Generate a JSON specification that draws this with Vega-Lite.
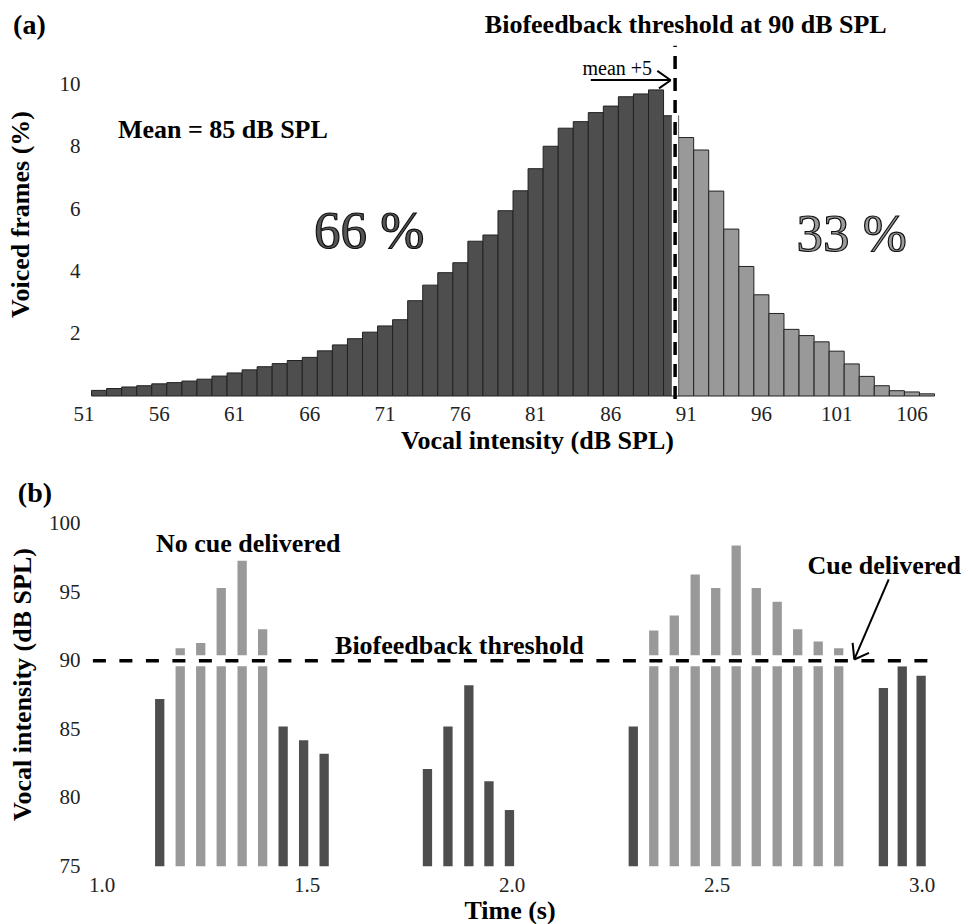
{
  "$schema": "https://vega.github.io/schema/vega-lite/v6.json",
  "background": "white",
  "padding": {"left": 7, "top": 11, "right": 0, "bottom": 0},
  "bounds": "flush",
  "spacing": 114,
  "config": {
    "view": {"stroke": null},
    "font": "Liberation Serif",
    "axis": {
      "labelFont": "Liberation Serif", "labelFontSize": 21, "labelColor": "#222222",
      "titleFont": "Liberation Serif", "titleFontSize": 26, "titleFontWeight": "bold", "titleColor": "#000000",
      "domain": false, "ticks": false, "tickSize": 0, "grid": false, "labelOverlap": false, "labelBound": false, "labelFlush": false
    },
    "text": {"font": "Liberation Serif", "color": "#000000"}
  },
  "vconcat": [
    {
      "width": 858,
      "height": 355,
      "data": {"values": [{}]},
      "layer": [
        {
          "data": {"values": [
            {"db": 51, "pct": 0.11, "zone": "below"}, {"db": 52, "pct": 0.18, "zone": "below"},
            {"db": 53, "pct": 0.24, "zone": "below"}, {"db": 54, "pct": 0.29, "zone": "below"},
            {"db": 55, "pct": 0.33, "zone": "below"}, {"db": 56, "pct": 0.39, "zone": "below"},
            {"db": 57, "pct": 0.43, "zone": "below"}, {"db": 58, "pct": 0.48, "zone": "below"},
            {"db": 59, "pct": 0.54, "zone": "below"}, {"db": 60, "pct": 0.64, "zone": "below"},
            {"db": 61, "pct": 0.74, "zone": "below"}, {"db": 62, "pct": 0.84, "zone": "below"},
            {"db": 63, "pct": 0.94, "zone": "below"}, {"db": 64, "pct": 1.04, "zone": "below"},
            {"db": 65, "pct": 1.14, "zone": "below"}, {"db": 66, "pct": 1.24, "zone": "below"},
            {"db": 67, "pct": 1.45, "zone": "below"}, {"db": 68, "pct": 1.64, "zone": "below"},
            {"db": 69, "pct": 1.84, "zone": "below"}, {"db": 70, "pct": 2.05, "zone": "below"},
            {"db": 71, "pct": 2.25, "zone": "below"}, {"db": 72, "pct": 2.45, "zone": "below"},
            {"db": 73, "pct": 3.06, "zone": "below"}, {"db": 74, "pct": 3.56, "zone": "below"},
            {"db": 75, "pct": 3.96, "zone": "below"}, {"db": 76, "pct": 4.28, "zone": "below"},
            {"db": 77, "pct": 4.97, "zone": "below"}, {"db": 78, "pct": 5.17, "zone": "below"},
            {"db": 79, "pct": 5.95, "zone": "below"}, {"db": 80, "pct": 6.59, "zone": "below"},
            {"db": 81, "pct": 7.3, "zone": "below"}, {"db": 82, "pct": 8.02, "zone": "below"},
            {"db": 83, "pct": 8.6, "zone": "below"}, {"db": 84, "pct": 8.81, "zone": "below"},
            {"db": 85, "pct": 9.1, "zone": "below"}, {"db": 86, "pct": 9.31, "zone": "below"},
            {"db": 87, "pct": 9.61, "zone": "below"}, {"db": 88, "pct": 9.7, "zone": "below"},
            {"db": 89, "pct": 9.83, "zone": "below"}, {"db": 90, "pct": 9.0, "zone": "below"},
            {"db": 91, "pct": 8.3, "zone": "above"}, {"db": 92, "pct": 7.9, "zone": "above"},
            {"db": 93, "pct": 6.58, "zone": "above"}, {"db": 94, "pct": 5.36, "zone": "above"},
            {"db": 95, "pct": 4.16, "zone": "above"}, {"db": 96, "pct": 3.25, "zone": "above"},
            {"db": 97, "pct": 2.65, "zone": "above"}, {"db": 98, "pct": 2.14, "zone": "above"},
            {"db": 99, "pct": 1.94, "zone": "above"}, {"db": 100, "pct": 1.74, "zone": "above"},
            {"db": 101, "pct": 1.44, "zone": "above"}, {"db": 102, "pct": 1.03, "zone": "above"},
            {"db": 103, "pct": 0.63, "zone": "above"}, {"db": 104, "pct": 0.33, "zone": "above"},
            {"db": 105, "pct": 0.17, "zone": "above"}, {"db": 106, "pct": 0.13, "zone": "above"},
            {"db": 107, "pct": 0.07, "zone": "above"}
          ]},
          "mark": {"type": "bar", "binSpacing": 0, "stroke": "#222222", "strokeWidth": 1},
          "encoding": {
            "x": {"field": "db", "type": "quantitative", "bin": {"step": 1, "anchor": 0.5},
              "scale": {"domain": [50.5, 107.5], "nice": false, "zero": false},
              "title": "Vocal intensity (dB SPL)",
              "axis": {"values": [51, 56, 61, 66, 71, 76, 81, 86, 91, 96, 101, 106], "format": "d", "labelPadding": 7,
                "titleX": 461, "titleY": 52, "titleBaseline": "alphabetic", "titleAlign": "center"}},
            "y": {"field": "pct", "type": "quantitative",
              "scale": {"domain": [0, 11.4], "nice": false},
              "title": "Voiced frames (%)",
              "axis": {"values": [2, 4, 6, 8, 10], "labelPadding": -4,
                "titleX": -56, "titleY": 173, "titleBaseline": "middle", "titleAlign": "center", "titleAngle": 270}},
            "color": {"field": "zone", "type": "nominal",
              "scale": {"domain": ["below", "above"], "range": ["#4e4e4e", "#999999"]}, "legend": null}
          }
        },
        {
          "mark": {"type": "rule", "color": "#ffffff", "strokeWidth": 6.5},
          "encoding": {"x": {"datum": 90.3}, "y": {"datum": 0.02}, "y2": {"datum": 11.25}}
        },
        {
          "mark": {"type": "rule", "color": "#000000", "strokeWidth": 3.5, "strokeDash": [13, 9]},
          "encoding": {"x": {"datum": 90.3}, "y": {"datum": -0.1}, "y2": {"datum": 11.25}}
        },
        {
          "mark": {"type": "rule", "color": "#000000", "strokeWidth": 2},
          "encoding": {"x": {"datum": 84.7}, "x2": {"datum": 90.01}, "y": {"datum": 10.15}, "y2": {"datum": 10.15}}
        },
        {
          "mark": {"type": "rule", "color": "#000000", "strokeWidth": 2},
          "encoding": {"x": {"datum": 89.12}, "x2": {"datum": 90.01}, "y": {"datum": 10.44}, "y2": {"datum": 10.14}}
        },
        {
          "mark": {"type": "rule", "color": "#000000", "strokeWidth": 2},
          "encoding": {"x": {"datum": 89.23}, "x2": {"datum": 90.01}, "y": {"datum": 9.88}, "y2": {"datum": 10.14}}
        },
        {
          "mark": {"type": "text", "text": "mean +5", "font": "Liberation Serif", "fontSize": 20, "align": "center", "baseline": "alphabetic"},
          "encoding": {"x": {"datum": 86.46}, "y": {"datum": 10.32}}
        },
        {
          "mark": {"type": "text", "text": "Mean = 85 dB SPL", "font": "Liberation Serif", "fontSize": 26, "fontWeight": "bold", "align": "left", "baseline": "alphabetic"},
          "encoding": {"x": {"datum": 53.29}, "y": {"datum": 8.28}}
        },
        {
          "mark": {"type": "text", "text": "Biofeedback threshold at 90 dB SPL", "font": "Liberation Serif", "fontSize": 26, "fontWeight": "bold", "align": "left", "baseline": "alphabetic"},
          "encoding": {"x": {"datum": 77.66}, "y": {"datum": 11.67}}
        },
        {
          "mark": {"type": "text", "text": "(a)", "font": "Liberation Serif", "fontSize": 28, "fontWeight": "bold", "align": "left", "baseline": "alphabetic"},
          "encoding": {"x": {"datum": 46.32}, "y": {"datum": 11.62}}
        },
        {
          "mark": {"type": "text", "text": "66 %", "font": "Liberation Serif", "fontSize": 53, "align": "left", "baseline": "alphabetic", "fill": "#555555", "stroke": "#111111", "strokeWidth": 1.2},
          "encoding": {"x": {"datum": 66.31}, "y": {"datum": 4.76}}
        },
        {
          "mark": {"type": "text", "text": "33 %", "font": "Liberation Serif", "fontSize": 53, "align": "left", "baseline": "alphabetic", "fill": "#9a9a9a", "stroke": "#111111", "strokeWidth": 1.2},
          "encoding": {"x": {"datum": 98.36}, "y": {"datum": 4.66}}
        }
      ]
    },
    {
      "width": 862,
      "height": 356.2,
      "data": {"values": [{}]},
      "layer": [
        {
          "data": {"values": [
            {"t": 1.142, "db": 87.2, "state": "below"}, {"t": 1.192, "db": 90.9, "state": "above"},
            {"t": 1.242, "db": 91.3, "state": "above"}, {"t": 1.292, "db": 95.3, "state": "above"},
            {"t": 1.343, "db": 97.3, "state": "above"}, {"t": 1.393, "db": 92.3, "state": "above"},
            {"t": 1.443, "db": 85.2, "state": "below"}, {"t": 1.493, "db": 84.2, "state": "below"},
            {"t": 1.543, "db": 83.2, "state": "below"},
            {"t": 1.795, "db": 82.1, "state": "below"}, {"t": 1.845, "db": 85.2, "state": "below"},
            {"t": 1.896, "db": 88.2, "state": "below"}, {"t": 1.945, "db": 81.2, "state": "below"},
            {"t": 1.995, "db": 79.1, "state": "below"},
            {"t": 2.297, "db": 85.2, "state": "below"}, {"t": 2.347, "db": 92.2, "state": "above"},
            {"t": 2.397, "db": 93.3, "state": "above"}, {"t": 2.448, "db": 96.3, "state": "above"},
            {"t": 2.498, "db": 95.3, "state": "above"}, {"t": 2.548, "db": 98.4, "state": "above"},
            {"t": 2.597, "db": 95.3, "state": "above"}, {"t": 2.648, "db": 94.3, "state": "above"},
            {"t": 2.698, "db": 92.3, "state": "above"}, {"t": 2.748, "db": 91.4, "state": "above"},
            {"t": 2.798, "db": 90.9, "state": "above"},
            {"t": 2.907, "db": 88.0, "state": "below"}, {"t": 2.953, "db": 89.6, "state": "below"},
            {"t": 2.999, "db": 88.9, "state": "below"}
          ]},
          "mark": {"type": "bar", "width": 9.3},
          "encoding": {
            "x": {"field": "t", "type": "quantitative",
              "scale": {"domain": [0.95, 3.028], "nice": false, "zero": false},
              "title": "Time (s)",
              "axis": {"values": [1.0, 1.5, 2.0, 2.5, 3.0], "format": ".1f", "labelPadding": 8,
                "titleX": 433.5, "titleY": 52, "titleBaseline": "alphabetic", "titleAlign": "center"}},
            "y": {"field": "db", "type": "quantitative",
              "scale": {"domain": [75, 101], "nice": false, "zero": false},
              "title": "Vocal intensity (dB SPL)",
              "axis": {"values": [75, 80, 85, 90, 95, 100], "labelPadding": -4,
                "titleX": -54, "titleY": 174, "titleBaseline": "middle", "titleAlign": "center", "titleAngle": 270}},
            "y2": {"datum": 75},
            "color": {"field": "state", "type": "nominal",
              "scale": {"domain": ["below", "above"], "range": ["#505050", "#969696"]}, "legend": null}
          }
        },
        {
          "mark": {"type": "rule", "color": "#ffffff", "strokeWidth": 11},
          "encoding": {"y": {"datum": 90}, "x": {"datum": 0.979}, "x2": {"datum": 3.026}}
        },
        {
          "mark": {"type": "rule", "color": "#000000", "strokeWidth": 3.5, "strokeDash": [13, 13.5]},
          "encoding": {"y": {"datum": 90}, "x": {"datum": 0.979}, "x2": {"datum": 3.026}}
        },
        {
          "mark": {"type": "rule", "color": "#000000", "strokeWidth": 2},
          "encoding": {"x": {"datum": 2.92}, "x2": {"datum": 2.836}, "y": {"datum": 95.93}, "y2": {"datum": 90.09}}
        },
        {
          "mark": {"type": "rule", "color": "#000000", "strokeWidth": 2},
          "encoding": {"x": {"datum": 2.872}, "x2": {"datum": 2.836}, "y": {"datum": 90.57}, "y2": {"datum": 90.09}}
        },
        {
          "mark": {"type": "rule", "color": "#000000", "strokeWidth": 2},
          "encoding": {"x": {"datum": 2.832}, "x2": {"datum": 2.836}, "y": {"datum": 91.3}, "y2": {"datum": 90.09}}
        },
        {
          "mark": {"type": "text", "text": "(b)", "font": "Liberation Serif", "fontSize": 28, "fontWeight": "bold", "align": "left", "baseline": "alphabetic"},
          "encoding": {"x": {"datum": 0.796}, "y": {"datum": 101.59}}
        },
        {
          "mark": {"type": "text", "text": "No cue delivered", "font": "Liberation Serif", "fontSize": 26, "fontWeight": "bold", "align": "left", "baseline": "alphabetic"},
          "encoding": {"x": {"datum": 1.133}, "y": {"datum": 97.92}}
        },
        {
          "mark": {"type": "text", "text": "Biofeedback threshold", "font": "Liberation Serif", "fontSize": 26, "fontWeight": "bold", "align": "left", "baseline": "alphabetic"},
          "encoding": {"x": {"datum": 1.5696}, "y": {"datum": 90.5}}
        },
        {
          "mark": {"type": "text", "text": "Cue delivered", "font": "Liberation Serif", "fontSize": 26, "fontWeight": "bold", "align": "right", "baseline": "alphabetic"},
          "encoding": {"x": {"datum": 3.096}, "y": {"datum": 96.34}}
        }
      ]
    }
  ]
}
